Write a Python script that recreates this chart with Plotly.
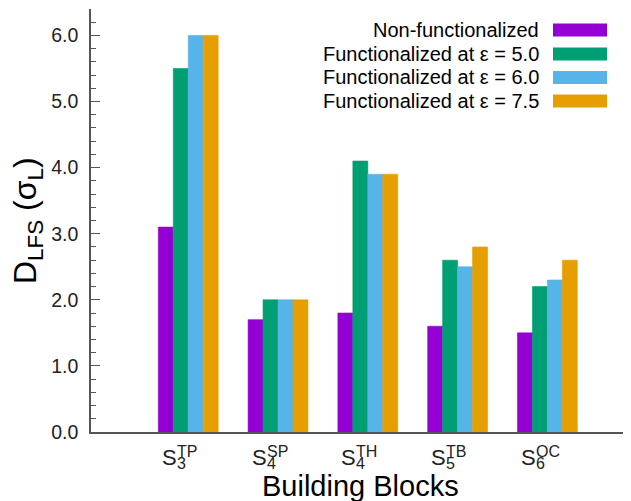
import plotly.graph_objects as go

# ---- data ----
categories = ["S3TP", "S4SP", "S4TH", "S5TB", "S6OC"]
label_sub = ["3", "4", "4", "5", "6"]
label_sup = ["TP", "SP", "TH", "TB", "OC"]
series_names = [
    "Non-functionalized",
    "Functionalized at ε = 5.0",
    "Functionalized at ε = 6.0",
    "Functionalized at ε = 7.5",
]
non_functionalized = [3.1, 1.7, 1.8, 1.6, 1.5]
func_eps_5_0 = [5.5, 2.0, 4.1, 2.6, 2.2]
func_eps_6_0 = [6.0, 2.0, 3.9, 2.5, 2.3]
func_eps_7_5 = [6.0, 2.0, 3.9, 2.8, 2.6]
series_values = [non_functionalized, func_eps_5_0, func_eps_6_0, func_eps_7_5]
colors = ["#9400d3", "#009e73", "#56b4e9", "#e69f00"]
y_ticks = [0, 1, 2, 3, 4, 5, 6]

FONT = "Liberation Sans, Arial, sans-serif"
OFF = 8  # page body margin of the browser
W, H = 631 - OFF, 501 - OFF
ML, MR, MT, MB = 91 - OFF, 1, 9 - OFF, 69
PW, PH = W - ML - MR, H - MT - MB


def px_x(x):
    # page pixel -> paper fraction
    return (x - OFF - ML) / PW


def px_y(y):
    return (H - MB - (y - OFF)) / PH


xpos = list(range(len(categories)))

fig = go.Figure()
for name, vals, col in zip(series_names, series_values, colors):
    fig.add_trace(go.Bar(
        x=xpos, y=vals, name=name,
        marker=dict(color=col, line=dict(width=0.6, color=col)),
        showlegend=False,
    ))

annotations = []
# category labels: S with stacked sub/superscript
for i, (sb, sp) in enumerate(zip(label_sub, label_sup)):
    annotations.append(dict(x=i, y=px_y(457), xref="x", yref="paper", text="S",
                            showarrow=False, xanchor="right", yanchor="middle",
                            xshift=-9.5, font=dict(family=FONT, size=22, color="#222")))
    annotations.append(dict(x=i, y=px_y(451.5), xref="x", yref="paper", text=sp,
                            showarrow=False, xanchor="left", yanchor="middle",
                            xshift=-13.5, font=dict(family=FONT, size=16, color="#222")))
    annotations.append(dict(x=i, y=px_y(463), xref="x", yref="paper", text=sb,
                            showarrow=False, xanchor="left", yanchor="middle",
                            xshift=-13.5, font=dict(family=FONT, size=16, color="#222")))

# axis titles
annotations.append(dict(x=px_x(360), y=px_y(486), xref="paper", yref="paper",
                        text="Building Blocks", showarrow=False,
                        xanchor="center", yanchor="middle",
                        font=dict(family=FONT, size=29, color="black")))
annotations.append(dict(x=px_x(27), y=px_y(221), xref="paper", yref="paper",
                        text="D<sub>LFS</sub> (σ<sub>L</sub>)", showarrow=False,
                        textangle=-90, xanchor="center", yanchor="middle",
                        font=dict(family=FONT, size=32, color="black")))

# legend (text on the left, swatch on the right)
shapes = []
row_centers = [30, 54, 77.5, 101]
for name, col, yc in zip(series_names, colors, row_centers):
    annotations.append(dict(x=px_x(541), y=px_y(yc), xref="paper", yref="paper",
                            text=name, showarrow=False, xanchor="right", yanchor="middle",
                            font=dict(family=FONT, size=20, color="black")))
    shapes.append(dict(type="rect", xref="paper", yref="paper",
                       x0=px_x(553), x1=px_x(607), y0=px_y(yc + 6.5), y1=px_y(yc - 6.5),
                       fillcolor=col, line=dict(width=0)))

fig.update_layout(
    width=W, height=H,
    margin=dict(l=ML, r=MR, t=MT, b=MB, pad=0),
    paper_bgcolor="white", plot_bgcolor="white",
    barmode="group", bargap=1 / 3, bargroupgap=0,
    annotations=annotations, shapes=shapes,
    showlegend=False,
    font=dict(family=FONT),
)
fig.update_xaxes(
    range=[-1.083, 4.92], showgrid=False, zeroline=False,
    showline=True, linecolor="#555", linewidth=1.5,
    showticklabels=False, ticks="",
)
fig.update_yaxes(
    range=[0, 6.4], showgrid=False, zeroline=False,
    showline=True, linecolor="#555", linewidth=1.5,
    tickvals=y_ticks, tickformat=".1f", ticks="inside", ticklen=9,
    tickcolor="#555", tickwidth=1.2, ticklabelstandoff=7,
    tickfont=dict(family=FONT, size=19.5, color="#222"),
    minor=dict(dtick=0.2, ticks="inside", ticklen=5, tickcolor="#555", tickwidth=1.2),
)

fig.write_html("out.html")
